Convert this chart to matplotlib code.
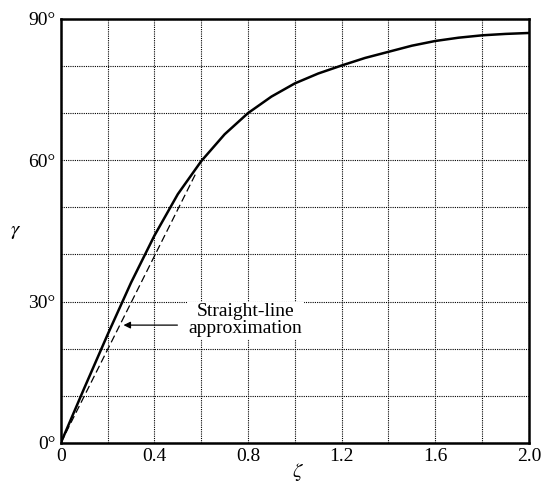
import numpy as np
import matplotlib
matplotlib.use("Agg")
import matplotlib.pyplot as plt

# damping ratio vs phase margin
zeta = [0.0, 0.1, 0.2, 0.3, 0.4, 0.5, 0.6, 0.7, 0.8, 0.9, 1.0,
        1.1, 1.2, 1.3, 1.4, 1.5, 1.6, 1.7, 1.8, 1.9, 2.0]
gamma = [0.0, 11.6, 23.0, 34.0, 44.0, 52.8, 59.8, 65.5, 70.0, 73.5, 76.3,
         78.4, 80.1, 81.7, 83.0, 84.3, 85.3, 86.0, 86.5, 86.8, 87.0]

# straight-line approximation endpoints
approx_zeta = [0.0, 0.58]
approx_gamma = [0.0, 57.5]

xtick_vals = [0.0, 0.2, 0.4, 0.6, 0.8, 1.0, 1.2, 1.4, 1.6, 1.8, 2.0]
xtick_labels = ["0", "", "0.4", "", "0.8", "", "1.2", "", "1.6", "", "2.0"]
ytick_vals = [0, 10, 20, 30, 40, 50, 60, 70, 80, 90]
ytick_labels = ["0°", "", "", "30°", "", "", "60°", "", "", "90°"]

plt.rcParams['font.family'] = ['Liberation Serif', 'DejaVu Serif']
plt.rcParams['mathtext.fontset'] = 'stix'

fig = plt.figure(figsize=(5.43, 4.83), dpi=100)
ax = fig.add_axes([0.112, 0.083, 0.862, 0.878])

ax.plot(zeta, gamma, color="black", linewidth=1.8)
ax.plot(approx_zeta, approx_gamma, color="black", linewidth=0.9, linestyle=(0, (6, 3)))

ax.set_xlim(0, 2.0)
ax.set_ylim(0, 90)
ax.set_xticks(xtick_vals)
ax.set_xticklabels(xtick_labels)
ax.set_yticks(ytick_vals)
ax.set_yticklabels(ytick_labels)
ax.tick_params(length=0, labelsize=14, pad=4)
ax.grid(True, color="black", linestyle=(0, (1, 1)), linewidth=0.8)

for s in ax.spines.values():
    s.set_linewidth(1.8)

fig.text(298 / 543, 1 - 472 / 483, r"$\zeta$", fontsize=15, ha="center", va="center")
fig.text(16 / 543, 1 - 232 / 483, r"$\gamma$", fontsize=15, ha="center", va="center")

ax.annotate("", xy=(0.256, 25.0), xytext=(0.51, 25.0),
            arrowprops=dict(arrowstyle="-|>", color="black", lw=0.9,
                            mutation_scale=10))
ax.text(0.79, 26.0, "Straight-line\napproximation", ha="center", va="center",
        fontsize=14, linespacing=1.0,
        bbox=dict(facecolor="white", edgecolor="none", pad=1))

fig.savefig("out.png", dpi=100)
